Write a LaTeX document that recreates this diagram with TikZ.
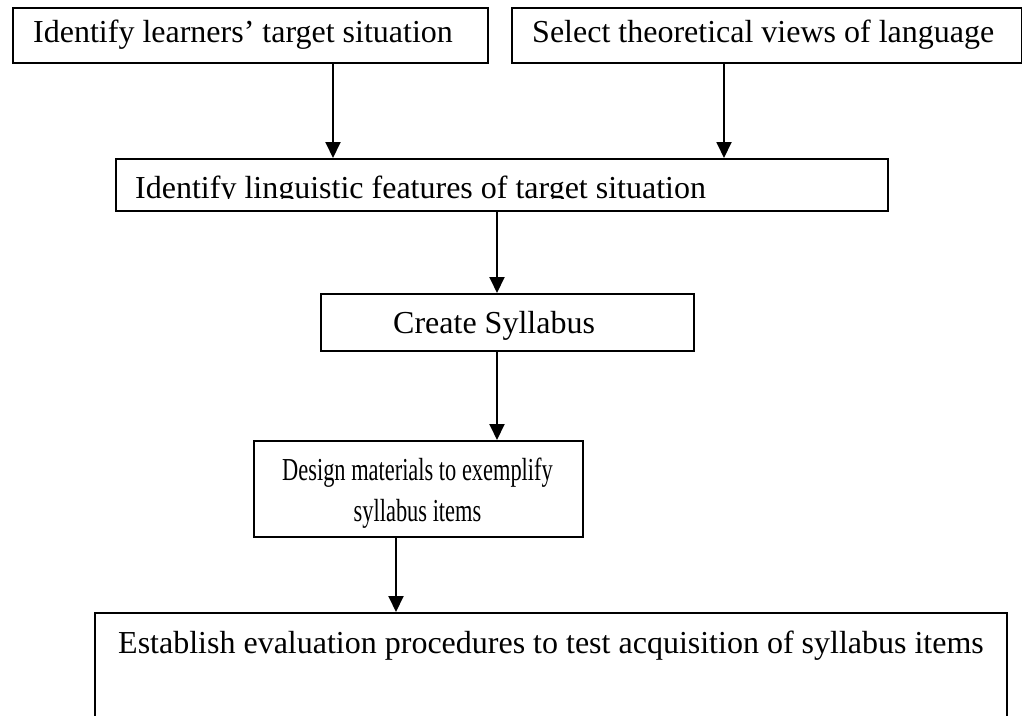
\documentclass[tikz,border=0pt]{standalone}
\usepackage{fontspec}
\usepackage{graphicx}
\setmainfont{Liberation Serif}
\usetikzlibrary{arrows.meta}
\begin{document}
\begin{tikzpicture}[x=1pt,y=-1pt,
  stepbox/.style={draw,line width=1.7pt,rectangle,inner sep=0pt,anchor=north west},
  label/.style={inner sep=0pt,anchor=base west,font=\fontsize{32}{42}\selectfont},
  narrow/.style={inner sep=0pt,anchor=base,font=\fontsize{32}{42}\selectfont},
  flow/.style={line width=1.9pt,-{Triangle[width=15pt,length=16pt]}}]
\clip (0,0) rectangle (1022,715);
\useasboundingbox (0,0) rectangle (1022,715);
\fill[white] (0,0) rectangle (1022,715);

% boxes
\node[stepbox,minimum width=475pt,minimum height=55pt] (target) at (12,7) {};
\node[stepbox,minimum width=510pt,minimum height=55pt] (views) at (511,7) {};
\node[stepbox,minimum width=772pt,minimum height=52pt] (features) at (115,158) {};
\node[stepbox,minimum width=373pt,minimum height=57pt] (syllabus) at (320,293) {};
\node[stepbox,minimum width=329pt,minimum height=96pt] (materials) at (253,440) {};
\node[stepbox,minimum width=912pt,minimum height=160pt] (evaluation) at (94,612) {};

% texts
\node[label] (t1) at (33,42) {Identify learners’ target situation};
\node[label] (t2) at (532,42) {Select theoretical views of language};
\begin{scope}
  \clip (115,150) rectangle (887,198.5);
  \node[label] (t3) at (135,198) {Identify linguistic features of target situation};
\end{scope}
\node[label] (t4) at (393,333) {Create Syllabus};
\node[narrow] (t5a) at (417.5,480) {\scalebox{0.7}[1]{Design materials to exemplify}};
\node[narrow] (t5b) at (417.5,521) {\scalebox{0.7}[1]{syllabus items}};
\node[label] (t6) at (118,653) {Establish evaluation procedures to test acquisition of syllabus items};

% connectors
\draw[flow] (target.south west) ++(321,0) coordinate (a1) -- (a1 |- features.north);
\draw[flow] (views.south west) ++(213,0) coordinate (a2) -- (a2 |- features.north);
\draw[flow] (features.south west) ++(382,0) coordinate (a3) -- (a3 |- syllabus.north);
\draw[flow] (syllabus.south west) ++(177,0) coordinate (a4) -- (a4 |- materials.north);
\draw[flow] (materials.south west) ++(143,0) coordinate (a5) -- (a5 |- evaluation.north);
\end{tikzpicture}
\end{document}
